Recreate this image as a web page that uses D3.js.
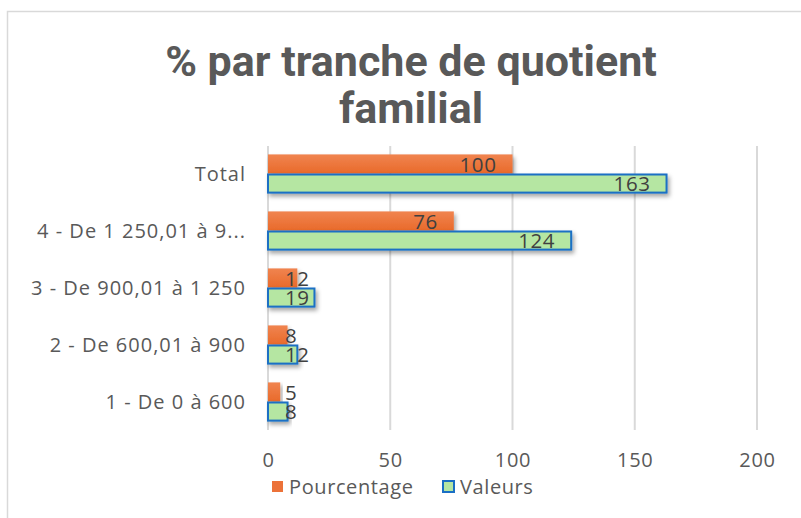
<!DOCTYPE html>
<html><head><meta charset="utf-8">
<script src="https://cdn.jsdelivr.net/npm/d3@7"></script>
<style>body{margin:0;background:#fff}svg{display:block}</style>
</head><body>
<script>
const categories = ["1 - De 0 à 600","2 - De 600,01 à 900","3 - De 900,01 à 1 250","4 - De 1 250,01 à 9...","Total"];
const pourcentage = [5, 8, 12, 76, 100];
const valeurs = [8, 12, 19, 124, 163];
const seriesNames = ["Pourcentage","Valeurs"];
const xTicks = [0, 50, 100, 150, 200];
const titleLines = ["% par tranche de quotient","familial"];

const W = 801, H = 518;
const svg = d3.select("body").append("svg").attr("width", W).attr("height", H);
const defs = svg.append("defs");
const f = defs.append("filter").attr("id","sh").attr("x","-10%").attr("y","-40%").attr("width","130%").attr("height","200%");
f.append("feDropShadow").attr("dx",2).attr("dy",3).attr("stdDeviation",2).attr("flood-color","#000").attr("flood-opacity",0.35);
const g1 = defs.append("linearGradient").attr("id","og").attr("x1",0).attr("y1",0).attr("x2",0).attr("y2",1);
g1.append("stop").attr("offset","0%").attr("stop-color","#F08450");
g1.append("stop").attr("offset","100%").attr("stop-color","#E96A2A");

svg.append("rect").attr("x",7.5).attr("y",11.5).attr("width",W).attr("height",H).attr("fill","#fff").attr("stroke","#d9d9d9").attr("stroke-width",1.5);

const FONT = "'Open Sans', sans-serif";
const TFONT = "Roboto, 'Open Sans', sans-serif";
const x = d3.scaleLinear().domain([0,200]).range([268,757]);
const y = d3.scaleBand().domain(categories.slice().reverse()).range([145,430]).paddingInner(0.33).paddingOuter(0.165);
const ys = d3.scaleBand().domain(seriesNames).range([0, y.bandwidth()]);

// gridlines
svg.append("g").selectAll("line").data(xTicks).join("line")
  .attr("x1",d=>x(d)).attr("x2",d=>x(d)).attr("y1",146).attr("y2",430)
  .attr("stroke","#d9d9d9").attr("stroke-width",2);

// title
svg.append("g").selectAll("text").data(titleLines).join("text")
  .attr("x",411).attr("y",(d,i)=>76+i*47).attr("text-anchor","middle")
  .attr("font-family",TFONT).attr("font-weight","bold").attr("font-size",43).attr("fill","#595959")
  .text(d=>d);

// category axis
const yAxis = d3.axisLeft(y).tickSize(0).tickPadding(0);
const ga = svg.append("g").attr("transform","translate(246,0)").call(yAxis);
ga.select(".domain").remove();
ga.selectAll("text").attr("font-family",FONT).attr("font-size",20).attr("letter-spacing","1px").attr("fill","#595959").attr("dy","0.35em");

// x axis
const xAxis = d3.axisBottom(x).tickValues(xTicks).tickSize(0).tickPadding(0);
const gx = svg.append("g").attr("transform","translate(0,460)").call(xAxis);
gx.select(".domain").remove();
gx.selectAll("text").attr("font-family",FONT).attr("font-size",20).attr("letter-spacing","0.8px").attr("fill","#595959").attr("dy","0.35em");

const data = categories.map((c,i)=>({c, vals:[{s:"Pourcentage",v:pourcentage[i]},{s:"Valeurs",v:valeurs[i]}]}));
const groups = svg.append("g").selectAll("g").data(data).join("g").attr("transform",d=>`translate(0,${y(d.c)})`);
groups.selectAll("rect").data(d=>d.vals).join("rect")
  .attr("x",x(0)).attr("y",d=>ys(d.s)+(d.s==="Valeurs"?1:0))
  .attr("width",d=>x(d.v)-x(0)).attr("height",d=>ys.bandwidth()-(d.s==="Valeurs"?1:0))
  .attr("fill",d=>d.s==="Pourcentage"?"url(#og)":"#B5E6A2")
  .attr("stroke",d=>d.s==="Valeurs"?"#1A6FC4":"none").attr("stroke-width",2)
  .attr("filter","url(#sh)");
groups.selectAll("text").data(d=>d.vals).join("text")
  .attr("y",d=>ys(d.s)+ys.bandwidth()/2+1).attr("dy","0.35em")
  .attr("font-family",FONT).attr("font-size",20.5).attr("letter-spacing","0.6px").attr("fill","#404040")
  .attr("text-anchor","end").text(d=>d.v)
  .each(function(d){
    const w = this.getComputedTextLength();
    const xe = Math.max(x(d.v)-16, x(0)+17+w);
    d3.select(this).attr("x", xe);
  });

// legend
const lg = svg.append("g").attr("transform","translate(272,487)");
const items = [{s:"Pourcentage",x:0},{s:"Valeurs",x:171}];
items.forEach(it=>{
  const gi = lg.append("g").attr("transform",`translate(${it.x},0)`);
  gi.append("rect").attr("x",0).attr("y",-6).attr("width",11).attr("height",11)
    .attr("fill",it.s==="Pourcentage"?"#EC7239":"#B5E6A2")
    .attr("stroke",it.s==="Valeurs"?"#1A6FC4":"none").attr("stroke-width",2);
  gi.append("text").attr("x",17).attr("y",0).attr("dy","0.35em")
    .attr("font-family",FONT).attr("font-size",20).attr("letter-spacing","0.6px").attr("fill","#595959").text(it.s);
});
</script>
</body></html>
